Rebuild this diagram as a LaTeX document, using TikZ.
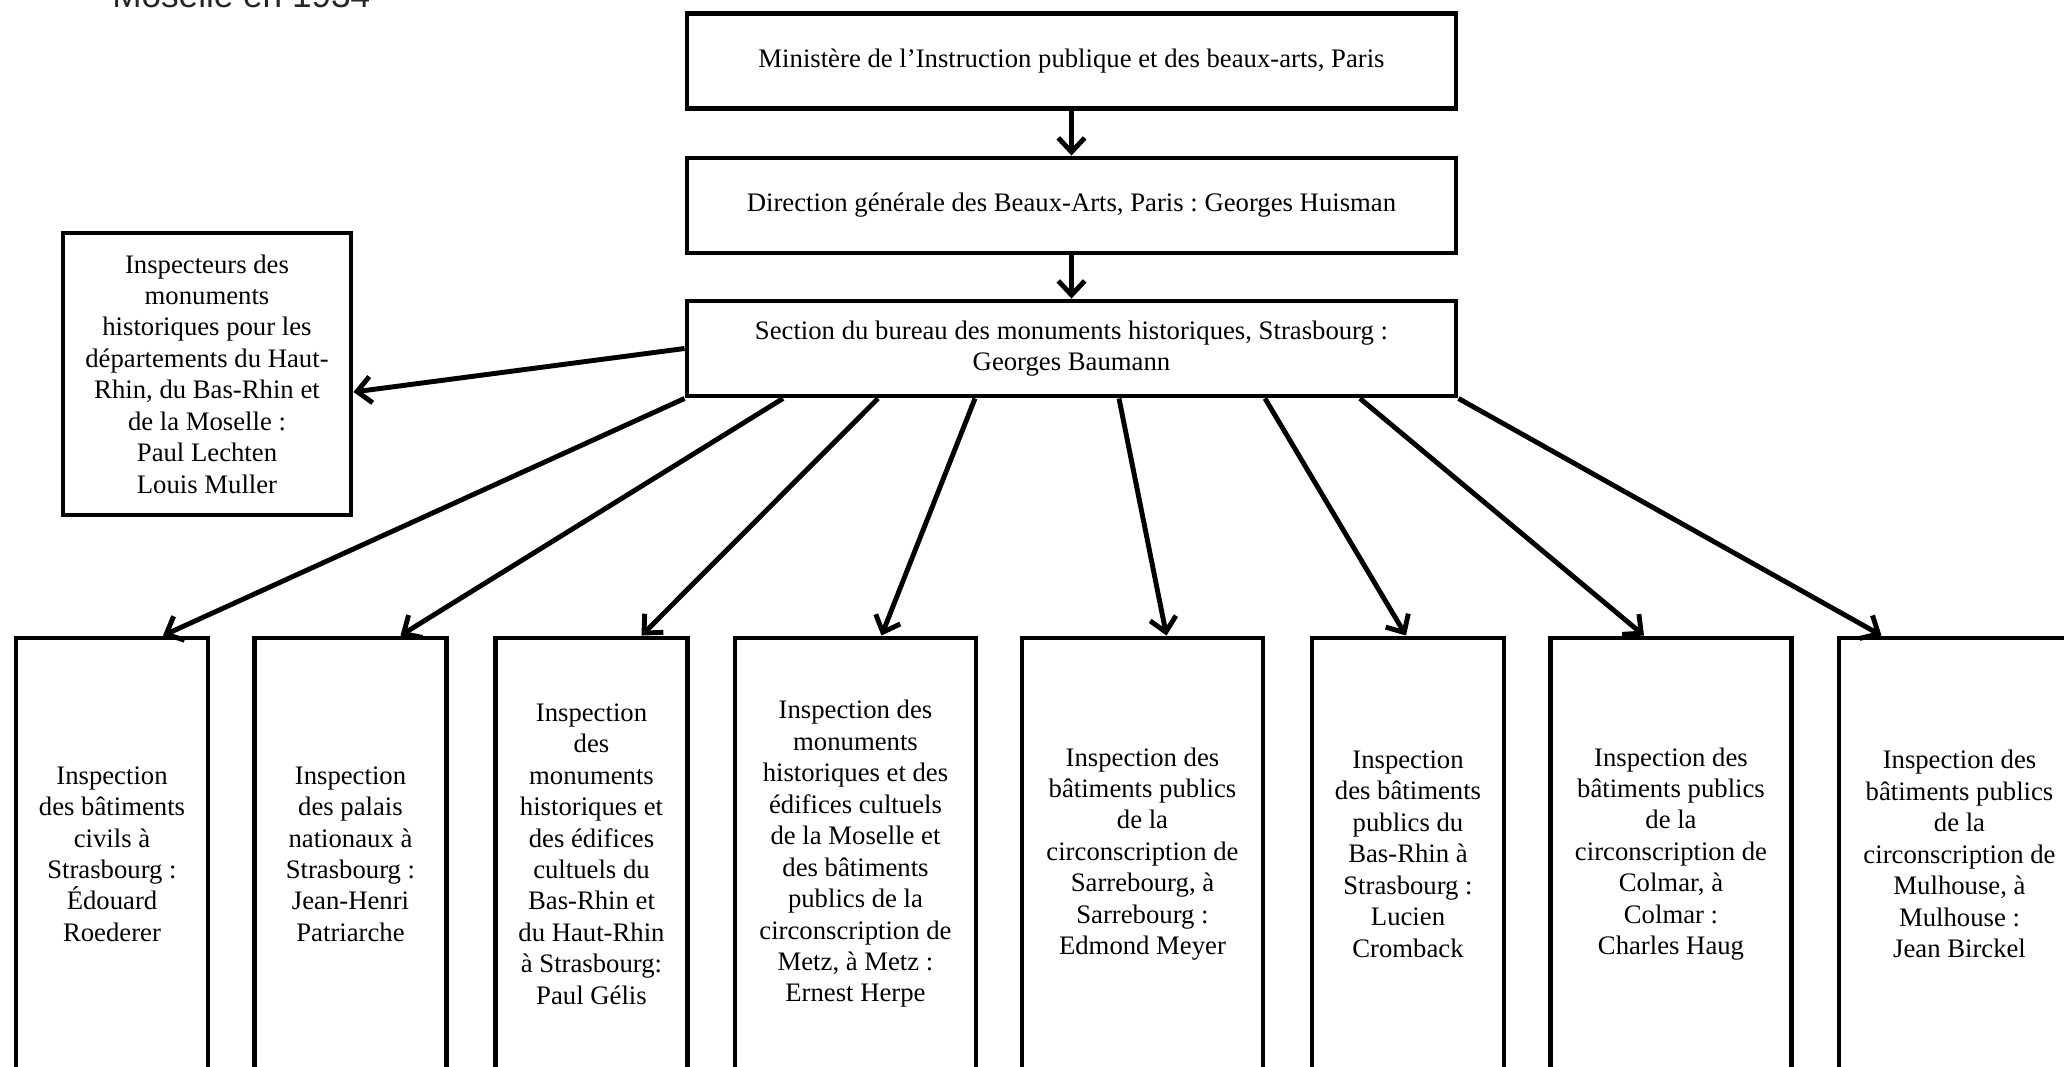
\documentclass[tikz,border=0pt]{standalone}
\usepackage{fontspec}
\setmainfont{Liberation Serif}
\setsansfont{Liberation Sans}
\usepackage{tikz}
\usetikzlibrary{arrows.meta, positioning}
\frenchspacing

\begin{document}
\begin{tikzpicture}[
          topbox/.style={
              draw=black,
              line width=2.8pt,
              minimum width=15.38cm,
              minimum height=1.9cm,
              font=\fontsize{15.2}{17.9}\selectfont,
              align=center
            },
          sidebox/.style={
              draw=black,
              line width=2.8pt,
              minimum width=5.76cm,
              minimum height=5.64cm,
              font=\fontsize{15.2}{17.9}\selectfont,
              align=center
            },
          narrowbox/.style={
              draw=black,
              line width=2.8pt,
              minimum width=3.84cm,
              minimum height=8.64cm,
              font=\fontsize{15.2}{17.9}\selectfont,
              align=center
            },
          widebox/.style={narrowbox, minimum width=4.82cm},
          arr/.style={-{Straight Barb[length=8pt,width=15pt]}, black, line width=2.8pt}
        ]
        \useasboundingbox (0,0) rectangle (41.28,-21.32);
        \clip (0,0) rectangle (41.28,-21.32);

        \node[font=\sffamily\fontsize{20}{24}\selectfont, text=black!85, anchor=base west, inner sep=0pt] (titre) at (2.24,-0.14) {Moselle en 1934};

        \node[topbox] (ministere) at (21.43,-1.22) {Ministère de l’Instruction publique et des beaux-arts, Paris};
        \node[topbox] (direction) at (21.43,-4.11) {Direction générale des Beaux-Arts, Paris : Georges Huisman};
        \node[topbox] (section) at (21.43,-6.97) {Section du bureau des monuments historiques, Strasbourg :\\ Georges Baumann};
        \node[sidebox] (inspecteurs) at (4.14,-7.48) {Inspecteurs des\\ monuments\\ historiques pour les\\ départements du Haut-\\ Rhin, du Bas-Rhin et\\ de la Moselle :\\ Paul Lechten\\ Louis Muller};

        \node[narrowbox] (civils) at (2.24,-17.08) {Inspection\\ des bâtiments\\ civils à\\ Strasbourg :\\ Édouard\\ Roederer};
        \node[narrowbox] (palais) at (7.01,-17.08) {Inspection\\ des palais\\ nationaux à\\ Strasbourg :\\ Jean-Henri\\ Patriarche};
        \node[narrowbox] (rhin_mh) at (11.83,-17.08) {Inspection\\ des\\ monuments\\ historiques et\\ des édifices\\ cultuels du\\ Bas-Rhin et\\ du Haut-Rhin\\ à Strasbourg:\\ Paul Gélis};
        \node[widebox] (metz) at (17.11,-17.08) {Inspection des\\ monuments\\ historiques et des\\ édifices cultuels\\ de la Moselle et\\ des bâtiments\\ publics de la\\ circonscription de\\ Metz, à Metz :\\ Ernest Herpe};
        \node[widebox] (sarrebourg) at (22.85,-17.08) {Inspection des\\ bâtiments publics\\ de la\\ circonscription de\\ Sarrebourg, à\\ Sarrebourg :\\ Edmond Meyer};
        \node[narrowbox] (basrhin) at (28.16,-17.08) {Inspection\\ des bâtiments\\ publics du\\ Bas-Rhin à\\ Strasbourg :\\ Lucien\\ Cromback};
        \node[widebox] (colmar) at (33.42,-17.08) {Inspection des\\ bâtiments publics\\ de la\\ circonscription de\\ Colmar, à\\ Colmar :\\ Charles Haug};
        \node[widebox] (mulhouse) at (39.19,-17.08) {Inspection des\\ bâtiments publics\\ de la\\ circonscription de\\ Mulhouse, à\\ Mulhouse :\\ Jean Birckel};

        \draw[arr] (ministere) -- (direction);
        \draw[arr] (direction) -- (section);
        \draw[arr] (section.west) -- ([yshift=-0.36cm]inspecteurs.east);

        \draw[arr] (section.south west) -- ([xshift=1.02cm]civils.north);
        \draw[arr] ([xshift=-5.77cm]section.south) -- ([xshift=1.0cm]palais.north);
        \draw[arr] ([xshift=-3.87cm]section.south) -- ([xshift=1.0cm]rhin_mh.north);
        \draw[arr] ([xshift=-1.93cm]section.south) -- ([xshift=0.52cm]metz.north);
        \draw[arr] ([xshift=0.95cm]section.south) -- ([xshift=0.48cm]sarrebourg.north);
        \draw[arr] ([xshift=3.87cm]section.south) -- ([xshift=-0.04cm]basrhin.north);
        \draw[arr] ([xshift=5.77cm]section.south) -- ([xshift=-0.54cm]colmar.north);
        \draw[arr] (section.south east) -- ([xshift=-1.56cm]mulhouse.north);
      \end{tikzpicture}
\end{document}
